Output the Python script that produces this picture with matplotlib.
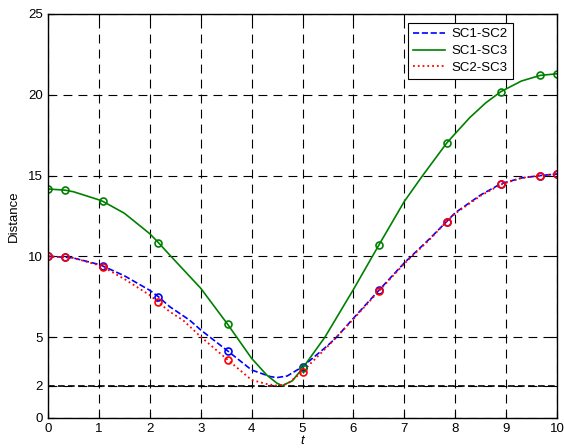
import matplotlib
matplotlib.use("Agg")
import matplotlib.pyplot as plt

# Curve readings (t, distance)
t_sc12 = [0, 0.33, 0.5, 1.0, 1.08, 1.5, 2.0, 2.17, 2.39, 2.78, 3.0, 3.53, 4.0, 4.37, 4.5, 4.7, 5.0, 5.5, 5.67, 6.0, 6.5, 7.0, 7.5, 7.83, 8.0, 8.5, 8.9, 9.3, 9.67, 10]
d_sc12 = [10, 9.95, 9.9, 9.5, 9.4, 8.8, 7.9, 7.5, 6.89, 6.06, 5.45, 4.15, 2.97, 2.56, 2.5, 2.6, 3.17, 4.5, 5.0, 6.17, 7.9, 9.6, 11.1, 12.15, 12.7, 13.8, 14.5, 14.85, 15.0, 15.1]

t_sc13 = [0, 0.33, 0.5, 1.0, 1.08, 1.5, 2.0, 2.17, 2.39, 3.0, 3.52, 4.0, 4.3, 4.5, 4.6, 4.8, 5.0, 5.44, 6.0, 6.5, 7.0, 7.36, 7.83, 8.0, 8.29, 8.6, 8.9, 9.3, 9.67, 10]
d_sc13 = [14.17, 14.1, 14.0, 13.5, 13.4, 12.67, 11.4, 10.85, 10.09, 8.03, 5.84, 3.69, 2.65, 2.15, 2.0, 2.3, 3.07, 5.0, 7.95, 10.7, 13.4, 15.0, 17.0, 17.6, 18.6, 19.5, 20.2, 20.85, 21.2, 21.3]

t_sc23 = [0, 0.33, 0.5, 1.0, 1.08, 1.5, 2.0, 2.17, 2.39, 2.65, 3.0, 3.53, 4.0, 4.3, 4.5, 4.7, 5.0, 5.5, 6.0, 6.5, 7.0, 7.5, 7.83, 8.0, 8.5, 8.9, 9.3, 9.67, 10]
d_sc23 = [10, 9.95, 9.9, 9.45, 9.35, 8.6, 7.6, 7.16, 6.58, 6.06, 5.03, 3.6, 2.35, 2.1, 2.0, 2.1, 2.87, 4.45, 6.12, 7.85, 9.55, 11.05, 12.15, 12.65, 13.75, 14.45, 14.85, 15.0, 15.1]

# Node markers
t_nodes = [0, 0.33, 1.08, 2.17, 3.53, 5.0, 6.5, 7.83, 8.9, 9.67, 10]
m_sc12 = [10, 9.95, 9.4, 7.5, 4.15, 3.17, 7.9, 12.15, 14.5, 15.0, 15.1]
m_sc13 = [14.17, 14.1, 13.4, 10.85, 5.84, 3.07, 10.7, 17.0, 20.2, 21.2, 21.3]
m_sc23 = [10, 9.95, 9.35, 7.16, 3.6, 2.87, 7.85, 12.15, 14.45, 15.0, 15.1]

safe_dist = 2
xticks = [0, 1, 2, 3, 4, 5, 6, 7, 8, 9, 10]
yticks = [0, 2, 5, 10, 15, 20, 25]

plt.rcParams['font.family'] = ['Liberation Sans', 'DejaVu Sans']
fig = plt.figure(figsize=(5.64, 4.48), dpi=100)
ax = fig.add_axes([0.0851, 0.067, 0.9025, 0.9018])

ax.plot(t_sc12, d_sc12, '--', color='blue', lw=1.2, label='SC1-SC2')
ax.plot(t_sc13, d_sc13, '-', color='green', lw=1.2, label='SC1-SC3')
ax.plot(t_sc23, d_sc23, ':', color='red', lw=1.3, label='SC2-SC3')
ax.plot(t_nodes, m_sc12, 'o', mfc='none', mec='blue', ms=5, mew=1.2)
ax.plot(t_nodes, m_sc13, 'o', mfc='none', mec='green', ms=5, mew=1.2)
ax.plot(t_nodes, m_sc23, 'o', mfc='none', mec='red', ms=5, mew=1.2)
ax.axhline(safe_dist, color='black', ls='--', lw=1.2, dashes=(4, 2), zorder=1)

ax.set_xlim(0, 10)
ax.set_ylim(0, 25)
ax.set_xticks(xticks)
ax.set_yticks(yticks)
ax.grid(True, color='black', ls=(0, (8, 5.5)), lw=0.8)
ax.tick_params(direction='in', top=True, right=True, labelsize=9.5, length=4)
for s in ax.spines.values():
    s.set_color('black')
    s.set_linewidth(1.0)
ax.set_xlabel('t', style='italic', fontsize=9.5, labelpad=0)
ax.set_ylabel('Distance', fontsize=9.5, labelpad=6)

leg = ax.legend(loc='upper right', bbox_to_anchor=(0.9136, 0.978), borderaxespad=0,
                fancybox=False, framealpha=1, edgecolor='black', fontsize=9.5,
                handlelength=2.4, borderpad=0.4, labelspacing=0.35, handletextpad=0.5)
leg.get_frame().set_linewidth(0.8)

fig.savefig('out.png', dpi=100)
